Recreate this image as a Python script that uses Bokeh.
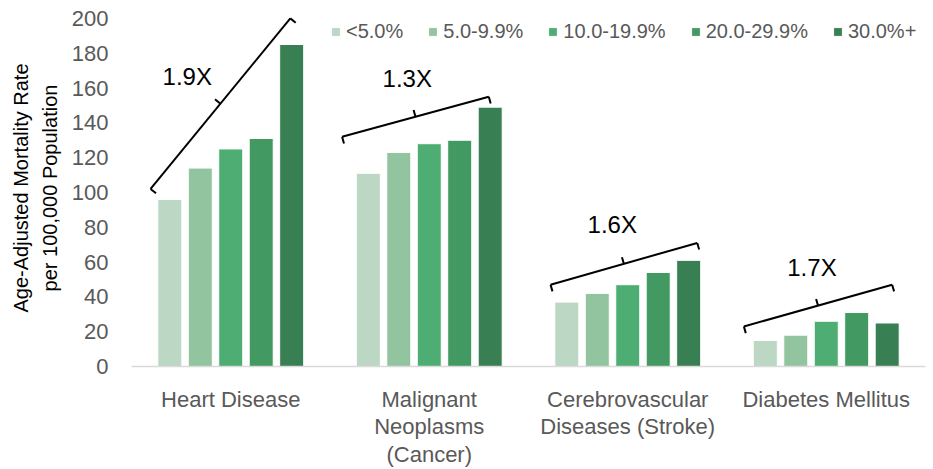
import math
from bokeh.plotting import figure
from bokeh.models import Range1d, FixedTicker
from bokeh.core.properties import value
from bokeh.embed import file_html
from bokeh.resources import INLINE

# ---------------- data ----------------
categories = ["Heart Disease", "Malignant\nNeoplasms\n(Cancer)",
              "Cerebrovascular\nDiseases (Stroke)", "Diabetes Mellitus"]
series = ["<5.0%", "5.0-9.9%", "10.0-19.9%", "20.0-29.9%", "30.0%+"]
rate_lt5 = [96, 111, 37, 15]
rate_5_10 = [114, 123, 42, 18]
rate_10_20 = [125, 128, 47, 26]
rate_20_30 = [131, 130, 54, 31]
rate_30p = [185, 149, 61, 25]
y_ticks = [0, 20, 40, 60, 80, 100, 120, 140, 160, 180, 200]

ratio_labels = ["1.9X", "1.3X", "1.6X", "1.7X"]
# bracket annotation (value units at each end)
bracket_start_val = [102, 132, 47, 23]
bracket_end_val = [200, 155, 71, 47]

# ---------------- styling / layout ----------------
colors = ["#BDD7C5", "#93C4A0", "#4EAD73", "#429962", "#387F53"]
FONT = "Liberation Sans"
GREY = "#595959"
FW, FH = 794, 361
BL, BR, BT, BB = 131, 8, 9, 99
Y_END = FH / 1.76
bar_pitch = 0.1535
bar_w = 0.121
bracket_x0 = [0.096, 0.061, 0.111, 0.085]
bracket_x1 = [0.80, 0.80, 0.85, 0.832]
label_dx = [0.281, 0.389, 0.422, 0.428]
label_y = [166.6, 165.7, 81.4, 56.8]

p = figure(width=BL + FW + BR, height=BT + FH + BB, output_backend="svg",
           toolbar_location=None,
           x_range=Range1d(0, len(categories)), y_range=Range1d(0, Y_END),
           min_border_left=BL, min_border_right=BR, min_border_top=BT,
           min_border_bottom=BB)
p.outline_line_color = None
p.background_fill_color = "white"
p.xgrid.visible = False
p.ygrid.visible = False

all_series = [rate_lt5, rate_5_10, rate_10_20, rate_20_30, rate_30p]
for k, (vals, name, col) in enumerate(zip(all_series, series, colors)):
    xs = [i + 0.5 + (k - 2) * bar_pitch for i in range(len(categories))]
    p.vbar(x=xs, top=vals, width=bar_w, bottom=0, fill_color=col,
           line_color="white", line_width=1, legend_label=name)

# brackets
sx = FW / len(categories)
sy = FH / Y_END
cap = 7.0
segs_x, segs_y = [], []
for i in range(len(categories)):
    x1, y1 = i + bracket_x0[i], bracket_start_val[i]
    x2, y2 = i + bracket_x1[i], bracket_end_val[i]
    dxs, dys = (x2 - x1) * sx, (y2 - y1) * sy
    L = math.hypot(dxs, dys)
    ux, uy = dxs / L, dys / L
    nx, ny = uy, -ux  # toward bars (down-right)
    cdx, cdy = nx * cap / sx, ny * cap / sy
    mx, my = (x1 + x2) / 2, (y1 + y2) / 2
    segs_x += [[x1, x2], [x1, x1 + cdx], [x2, x2 + cdx], [mx, mx - cdx]]
    segs_y += [[y1, y2], [y1, y1 + cdy], [y2, y2 + cdy], [my, my - cdy]]
p.multi_line(xs=segs_x, ys=segs_y, line_color="black", line_width=2)

p.text(x=[i + label_dx[i] for i in range(len(categories))], y=label_y,
       text=ratio_labels, text_align="center", text_baseline="middle",
       text_font=value(FONT), text_font_size="24px", text_color="black")

# axes
p.xaxis.ticker = FixedTicker(ticks=[i + 0.5 for i in range(len(categories))])
p.xaxis.major_label_overrides = {i + 0.5: c for i, c in enumerate(categories)}
p.xaxis.major_tick_line_color = None
p.xaxis.minor_tick_line_color = None
p.xaxis.axis_line_color = "#D9D9D9"
p.xaxis.axis_line_width = 1.5
p.xaxis.major_label_text_font = FONT
p.xaxis.major_label_text_font_size = "22px"
p.xaxis.major_label_text_line_height = 1.1
p.xaxis.major_label_text_color = GREY
p.xaxis.major_label_standoff = 14

p.yaxis.ticker = FixedTicker(ticks=y_ticks)
p.yaxis.axis_line_color = None
p.yaxis.major_tick_line_color = None
p.yaxis.minor_tick_line_color = None
p.yaxis.major_label_text_font = FONT
p.yaxis.major_label_text_font_size = "22px"
p.yaxis.major_label_text_color = GREY
p.yaxis.major_label_standoff = 17
p.yaxis.axis_label = "Age-Adjusted Mortality Rate\nper 100,000 Population"
p.yaxis.axis_label_text_font = FONT
p.yaxis.axis_label_text_font_size = "20px"
p.yaxis.axis_label_text_line_height = 1.3
p.yaxis.axis_label_text_font_style = "normal"
p.yaxis.axis_label_text_color = "black"
p.yaxis.axis_label_standoff = 8

leg = p.legend[0]
leg.orientation = "horizontal"
leg.location = (199, 323)
leg.border_line_color = None
leg.background_fill_alpha = 0
leg.padding = 0
leg.margin = 0
leg.glyph_width = 11
leg.glyph_height = 11
leg.label_standoff = 5
leg.spacing = 24
leg.label_text_font = FONT
leg.label_text_font_size = "20px"
leg.label_text_color = GREY

open("out.html", "w").write(file_html(p, INLINE))
